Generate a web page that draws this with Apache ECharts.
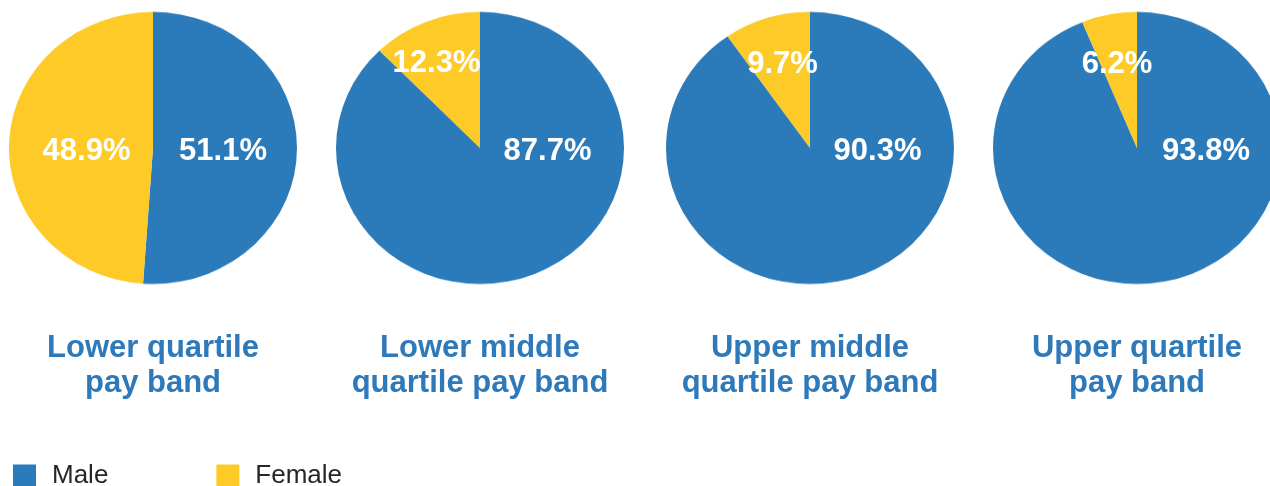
<!DOCTYPE html>
<html>
<head>
<meta charset="utf-8">
<script src="https://cdn.jsdelivr.net/npm/echarts@6/dist/echarts.min.js"></script>
<style>
html,body{margin:0;padding:0;background:#fff;}
#wrap{position:relative;width:1270px;height:486px;overflow:hidden;}
#pies{position:absolute;left:0;top:0;width:1270px;height:330px;transform:scaleY(0.945);transform-origin:0 0;}
#main{position:absolute;left:0;top:0;width:1270px;height:486px;}
</style>
</head>
<body>
<div id="wrap"><div id="pies"></div><div id="main"></div></div>
<script>
// ---- data ----
const bands = ['Lower quartile\npay band', 'Lower middle\nquartile pay band', 'Upper middle\nquartile pay band', 'Upper quartile\npay band'];
const genders = ['Male', 'Female'];
const male = [51.1, 87.7, 90.3, 93.8];
const female = [48.9, 12.3, 9.7, 6.2];

// ---- styles ----
const BLUE = '#2B7ABA';
const YELLOW = '#FDCA28';
const TITLE_BLUE = '#2E79B9';
const centersX = [153, 480, 810, 1137];
const CY = 148;
const SCALE = 0.945;
const R = 144;
// label shift relative to pie centre [dx, dy] for male, female
const shifts = [
  [[70, 3], [-66.5, 3]],
  [[67.5, 3], [-43.5, -84.5]],
  [[67.5, 3], [-27.5, -83.5]],
  [[69, 3], [-20, -83.5]]
];

function items(i) {
  return [
    { name: genders[0], value: male[i] },
    { name: genders[1], value: female[i] }
  ];
}

// ---- coloured pies (elliptical via vertical scale) ----
const pies = echarts.init(document.getElementById('pies'), null, { renderer: 'canvas' });
pies.setOption({
  animation: false,
  color: [BLUE, YELLOW],
  series: bands.map((b, i) => ({
    type: 'pie',
    center: [centersX[i], CY / SCALE],
    radius: [0, R],
    startAngle: 90,
    clockwise: true,
    silent: true,
    label: { show: false },
    labelLine: { show: false },
    itemStyle: { borderWidth: 0 },
    data: items(i)
  }))
});

// ---- labels, titles, legend ----
const main = echarts.init(document.getElementById('main'), null, { renderer: 'canvas' });
main.setOption({
  animation: false,
  color: [BLUE, YELLOW],
  legend: {
    left: 13,
    top: 463,
    itemWidth: 23,
    itemHeight: 23,
    itemGap: 108,
    icon: 'rect',
    padding: 0,
    textStyle: { fontFamily: 'Liberation Sans, Arial, sans-serif', fontSize: 26, color: '#262626', padding: [0, 0, 0, 11] },
    data: [
      { name: genders[0], itemStyle: { color: BLUE } },
      { name: genders[1], itemStyle: { color: YELLOW } }
    ]
  },
  graphic: bands.map((b, i) => ({
    type: 'text',
    x: centersX[i],
    y: 366,
    silent: true,
    style: {
      text: b,
      fill: TITLE_BLUE,
      font: 'bold 31px "Liberation Sans", Arial, sans-serif',
      lineHeight: 35,
      textAlign: 'center',
      textVerticalAlign: 'middle'
    }
  })),
  series: bands.map((b, i) => ({
    type: 'pie',
    center: [centersX[i], CY],
    radius: [0, R],
    startAngle: 90,
    clockwise: true,
    silent: true,
    itemStyle: { color: 'rgba(0,0,0,0)' },
    labelLine: { show: false },
    emphasis: { disabled: true },
    label: {
      show: true,
      position: 'center',
      color: '#fff',
      fontFamily: 'Liberation Sans, Arial, sans-serif',
      fontWeight: 'bold',
      fontSize: 31,
      formatter: (p) => p.value.toFixed(1) + '%'
    },
    labelLayout: (params) => ({
      dx: shifts[i][params.dataIndex][0],
      dy: shifts[i][params.dataIndex][1]
    }),
    data: items(i)
  }))
});
</script>
</body>
</html>
